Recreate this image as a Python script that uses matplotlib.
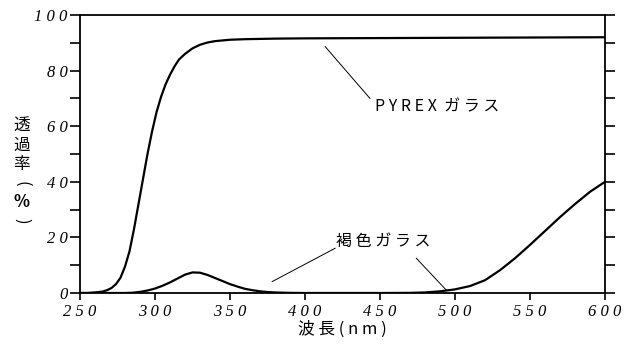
import numpy as np
import matplotlib
matplotlib.use("Agg")
from matplotlib import pyplot as plt
from matplotlib.ticker import MultipleLocator, FixedLocator, FixedFormatter

# 透過率データ (読み取り値)
wl_pyrex = [250, 255, 260, 265, 268, 271, 274, 277, 280, 283, 286, 289, 292, 295,
            298, 301, 304, 307, 310, 313, 316, 320, 325, 330, 335, 340, 350, 360,
            380, 400, 450, 500, 550, 600]
t_pyrex = [0, 0, 0.2, 0.5, 1.0, 1.8, 3.2, 5.5, 9.5, 15, 23, 32, 41, 50,
           58, 65, 70.5, 75, 78.5, 81.5, 84, 86, 88, 89.3, 90.1, 90.6, 91.1, 91.3,
           91.5, 91.6, 91.7, 91.8, 91.9, 92.0]

wl_brown = [250, 280, 285, 290, 295, 300, 305, 310, 315, 320, 325, 330, 335, 340,
            345, 350, 355, 360, 365, 370, 375, 380, 390, 400, 450, 470, 480, 490,
            500, 510, 520, 530, 540, 550, 560, 570, 580, 590, 600]
t_brown = [0, 0, 0.1, 0.4, 0.9, 1.6, 2.6, 3.8, 5.2, 6.6, 7.4, 7.3, 6.5, 5.4,
           4.3, 3.2, 2.3, 1.5, 1.0, 0.6, 0.35, 0.2, 0.05, 0, 0, 0.05, 0.2, 0.6,
           1.3, 2.5, 4.6, 8.2, 12.5, 17.3, 22.3, 27.3, 32.0, 36.4, 40.0]

x_ticks = [250, 300, 350, 400, 450, 500, 550, 600]
y_ticks = [0, 20, 40, 60, 80, 100]

jp = ['Noto Sans CJK JP', 'DejaVu Sans']

fig = plt.figure(figsize=(6.31, 3.5), dpi=100)
ax = fig.add_axes([80 / 631, 57 / 350, 525 / 631, 278 / 350])

ax.plot(wl_pyrex, t_pyrex, color='black', lw=1.6)
ax.plot(wl_brown, t_brown, color='black', lw=1.6)

ax.set_xlim(250, 600)
ax.set_ylim(0, 100)

ax.xaxis.set_major_locator(FixedLocator(x_ticks))
ax.xaxis.set_major_formatter(FixedFormatter([" ".join(str(v)) for v in x_ticks]))
ax.yaxis.set_major_locator(FixedLocator(y_ticks))
ax.yaxis.set_major_formatter(FixedFormatter([" ".join(str(v)) for v in y_ticks]))
ax.yaxis.set_minor_locator(MultipleLocator(10))

ax.tick_params(axis='x', direction='out', length=5, width=1.2, pad=3)
ax.tick_params(axis='y', which='both', direction='out', length=7, width=1.2,
               right=True, pad=2)
for lab in ax.get_xticklabels() + ax.get_yticklabels():
    lab.set_fontfamily('Liberation Serif')
    lab.set_fontstyle('italic')
    lab.set_fontsize(12)

for s in ax.spines.values():
    s.set_linewidth(1.3)

# 注釈
ax.plot([413.5, 443.3], [88.6, 70], color='black', lw=0.7)
ax.text(446.8, 67, "P Y R E X  ガ ラ ス", family=jp, fontsize=11.5,
        ha='left', va='center')

ax.plot([378.1, 420.1], [4.1, 16.1], color='black', lw=0.7)
ax.plot([474.2, 494.1], [12.5, 1.1], color='black', lw=0.7)
ax.text(452, 18.5, "褐 色 ガ ラ ス", family=jp, fontsize=11.5,
        ha='center', va='center')

fig.text(342 / 631, 1 - 329 / 350, "波 長 ( n m )", family=jp, fontsize=12,
         ha='center', va='center')

# 縦書きの軸ラベル
ylab_chars = ["透", "過", "率", "(", "%", ")"]
ylab_rot = [0, 0, 0, -90, 0, -90]
ylab_y = [125, 145, 164, 184, 202, 221]
for ch, r, yy in zip(ylab_chars, ylab_rot, ylab_y):
    fig.text(22 / 631, 1 - yy / 350, ch, family=jp, fontsize=12,
             rotation=r, ha='center', va='center',
             fontweight='bold' if ch == "%" else 'normal')

fig.savefig("out.png", dpi=100)
